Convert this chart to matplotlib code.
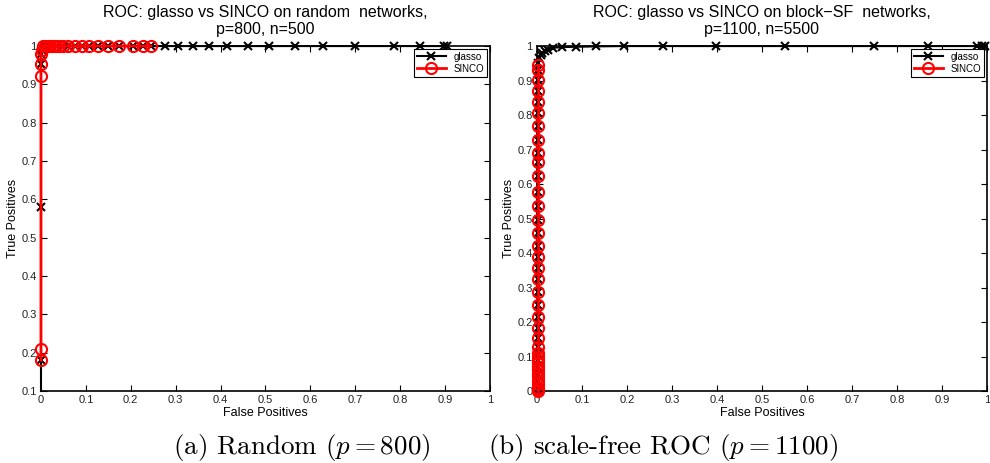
#!/usr/bin/env python3
import matplotlib
matplotlib.use('Agg')
import matplotlib.pyplot as plt

plt.rcParams['font.family'] = ['Liberation Sans', 'DejaVu Sans']
plt.rcParams['mathtext.fontset'] = 'cm'

# (a) random network, p=800, n=500
rand_glasso_fp = [0, 0, 0, 0, 0, 0.003, 0.008, 0.015, 0.025, 0.035, 0.047, 0.060, 0.076,
                  0.091, 0.107, 0.127, 0.149, 0.174, 0.205, 0.227, 0.245, 0.276, 0.305,
                  0.339, 0.374, 0.414, 0.461, 0.508, 0.566, 0.628, 0.699, 0.786, 0.844,
                  0.898, 0.904]
rand_glasso_tp = [0.1, 0.18, 0.58, 0.953, 0.98, 0.99, 1, 1, 1, 1, 1, 1, 1,
                  1, 1, 1, 1, 1, 1, 1, 1, 1, 1,
                  1, 1, 1, 1, 1, 1, 1, 1, 1, 1,
                  1, 1]
rand_sinco_fp = [0, 0, 0, 0, 0, 0.002, 0.005, 0.010, 0.015, 0.020, 0.026, 0.033, 0.040,
                 0.050, 0.060, 0.076, 0.091, 0.107, 0.127, 0.149, 0.174, 0.205, 0.227, 0.245]
rand_sinco_tp = [0.18, 0.21, 0.922, 0.953, 0.98, 0.99, 1, 1, 1, 1, 1, 1, 1,
                 1, 1, 1, 1, 1, 1, 1, 1, 1, 1, 1]

# (b) block scale-free network, p=1100, n=5500
sf_sinco_tp = [0, 0.005, 0.01, 0.02, 0.03, 0.04, 0.05, 0.06, 0.07, 0.08, 0.09, 0.10, 0.11,
               0.128, 0.154, 0.183, 0.214, 0.249, 0.287, 0.325, 0.357, 0.388, 0.42, 0.458,
               0.496, 0.536, 0.577, 0.623, 0.664, 0.69, 0.728, 0.768, 0.806, 0.838, 0.87,
               0.901, 0.93, 0.945]
sf_sinco_fp = [0.002] * len(sf_sinco_tp)
sf_glasso_tp = [0, 0.01, 0.03, 0.05, 0.07, 0.09, 0.11, 0.128, 0.154, 0.183, 0.214, 0.249,
                0.287, 0.325, 0.357, 0.388, 0.42, 0.458, 0.496, 0.536, 0.577, 0.623, 0.664,
                0.69, 0.728, 0.768, 0.806, 0.838, 0.87, 0.901, 0.93, 0.95, 0.965, 0.975,
                0.98, 0.987, 0.99, 0.995, 0.997, 0.998, 0.999, 1, 1, 1, 1, 1, 1, 1, 1, 1]
sf_glasso_fp = [0.002] * 31 + [0.003, 0.004, 0.008, 0.012, 0.018, 0.025, 0.036, 0.056,
                               0.087, 0.131, 0.193, 0.280, 0.398, 0.551, 0.749, 0.869,
                               0.978, 0.99, 0.995]

titles = ['ROC: glasso vs SINCO on random  networks,\np=800, n=500',
          'ROC: glasso vs SINCO on block\u2212SF  networks,\np=1100, n=5500']
captions = ['(a) Random ($p = 800$)', '(b) scale-free ROC ($p = 1100$)']

fig = plt.figure(figsize=(9.9, 4.63), dpi=100)
ax1 = fig.add_axes([0.0414, 0.1555, 0.4535, 0.745])
ax2 = fig.add_axes([0.5424, 0.1555, 0.4545, 0.745])

# first glasso point of (a) sits on the axis floor, only the line shows there
panels = [(ax1, rand_glasso_fp, rand_glasso_tp, rand_sinco_fp, rand_sinco_tp, 0.1, 1),
          (ax2, sf_glasso_fp, sf_glasso_tp, sf_sinco_fp, sf_sinco_tp, 0.0, 0)]

for i, (ax, gfp, gtp, sfp, stp, ymin, skip) in enumerate(panels):
    ax.plot(gfp, gtp, color='black', linewidth=1.5, marker='x', markersize=6,
            markeredgewidth=1.5, label='glasso', clip_on=False, zorder=3,
            markevery=list(range(skip, len(gfp))))
    ax.plot(sfp, stp, color='red', linewidth=2, marker='o', markersize=8,
            markerfacecolor='none', markeredgewidth=1.5, label='SINCO',
            clip_on=False, zorder=4)
    ax.set_xlim(0, 1)
    ax.set_ylim(ymin, 1)
    ax.set_xticks([j / 10 for j in range(11)])
    ax.set_xticklabels(['0'] + ['%.1f' % (j / 10) for j in range(1, 10)] + ['1'])
    yt = [j / 10 for j in range(int(round(ymin * 10)), 11)]
    ax.set_yticks(yt)
    ax.set_yticklabels(['0' if v == 0 else ('1' if v == 1 else '%.1f' % v) for v in yt])
    ax.tick_params(direction='in', top=True, right=True, length=4, width=0.8,
                   labelsize=8, pad=3, colors='black', labelcolor='#222222')
    for s in ax.spines.values():
        s.set_linewidth(1.2)
    ax.set_xlabel('False Positives', fontsize=9, labelpad=1)
    ax.set_ylabel('True Positives', fontsize=9, labelpad=2)
    ax.set_title(titles[i], fontsize=11.5, pad=9, linespacing=1.15)
    leg = ax.legend(loc='upper right', fontsize=7, fancybox=False, framealpha=1,
                    edgecolor='black', borderpad=0.3, handlelength=3, labelspacing=0.2,
                    borderaxespad=0.3)
    leg.get_frame().set_linewidth(0.8)

fig.text(0.305, 0.033, captions[0], fontsize=19.5, family='cmr10', ha='center', va='center')
fig.text(0.67, 0.033, captions[1], fontsize=19.5, family='cmr10', ha='center', va='center')

fig.savefig('out.png', dpi=100)
